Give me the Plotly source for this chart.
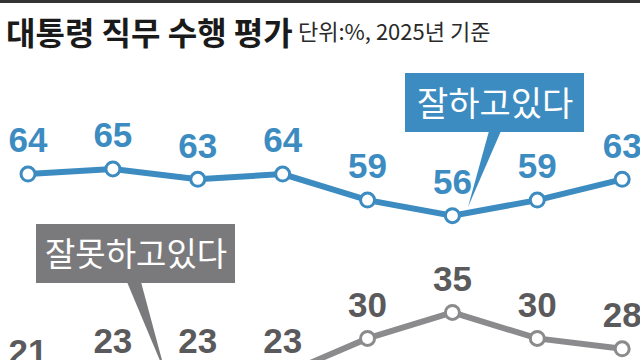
import plotly.graph_objects as go

# ---- data ----
periods = list(range(8))          # survey points (x labels not visible in the crop)
approve = [64, 65, 63, 64, 59, 56, 59, 63]      # 잘하고 있다
disapprove = [21, 23, 23, 23, 30, 35, 30, 28]   # 잘못하고 있다

title_text = "대통령 직무 수행 평가"
unit_text = "단위:%, 2025년 기준"
approve_name = "잘하고있다"
disapprove_name = "잘못하고있다"

BLUE = "#3d8cc1"
GRAY_LINE = "#8b8b8d"
GRAY_BOX = "#7a7a7c"
GRAY_TEXT = "#5a5a5c"
NUM_FONT = "Liberation Sans, Arial, sans-serif"
KR_FONT = "Noto Sans CJK KR, sans-serif"

W, H = 640, 360


def px(x):
    return x / W


def py(y):
    return 1 - y / H


fig = go.Figure()

series = [
    (approve, "y", BLUE, BLUE, approve_name),
    (disapprove, "y2", GRAY_LINE, GRAY_TEXT, disapprove_name),
]
for vals, yax, lc, tc, name in series:
    fig.add_trace(go.Scatter(
        x=periods, y=vals, name=name, yaxis=yax,
        mode="lines+markers",
        line=dict(color=lc, width=6),
        marker=dict(size=14, color="white", line=dict(color=lc, width=3)),
        cliponaxis=True, hoverinfo="skip",
    ))
    # value labels (transparent markers only set the text offset)
    fig.add_trace(go.Scatter(
        x=periods, y=vals, yaxis=yax, mode="markers+text",
        marker=dict(size=19, color="rgba(0,0,0,0)"),
        text=[str(v) for v in vals], textposition="top center",
        textfont=dict(family=NUM_FONT, size=35, color=tc, weight="bold"),
        cliponaxis=True, hoverinfo="skip", showlegend=False,
    ))

shapes = [
    # top rule
    dict(type="rect", xref="paper", yref="paper", x0=0, x1=1, y0=py(3), y1=1,
         fillcolor="#333333", line=dict(width=0)),
    # blue callout
    dict(type="rect", xref="paper", yref="paper", x0=px(405), x1=px(584), y0=py(132), y1=py(73),
         fillcolor=BLUE, line=dict(width=0)),
    dict(type="path", xref="paper", yref="paper",
         path=f"M {px(489)} {py(131)} L {px(501)} {py(131)} L {px(468)} {py(207)} Z",
         fillcolor=BLUE, line=dict(width=0)),
    # gray callout
    dict(type="rect", xref="paper", yref="paper", x0=px(36), x1=px(235), y0=py(283), y1=py(224),
         fillcolor=GRAY_BOX, line=dict(width=0)),
    dict(type="path", xref="paper", yref="paper",
         path=f"M {px(127)} {py(282)} L {px(141)} {py(282)} L {px(166)} {py(375)} Z",
         fillcolor=GRAY_BOX, line=dict(width=0)),
]

annotations = [
    dict(text=f"<b>{title_text}</b>", xref="paper", yref="paper", x=px(4), y=py(31),
         xanchor="left", yanchor="middle", showarrow=False,
         font=dict(family=KR_FONT, size=32, color="#1a1a1a")),
    dict(text=unit_text, xref="paper", yref="paper", x=px(296), y=py(30),
         xanchor="left", yanchor="middle", showarrow=False,
         font=dict(family=KR_FONT, size=22, color="#2a2a2a")),
    dict(text=approve_name, xref="paper", yref="paper", x=px(494.5), y=py(101),
         xanchor="center", yanchor="middle", showarrow=False,
         font=dict(family=KR_FONT, size=34, color="white")),
    dict(text=disapprove_name, xref="paper", yref="paper", x=px(135.5), y=py(252),
         xanchor="center", yanchor="middle", showarrow=False,
         font=dict(family=KR_FONT, size=33, color="white")),
]

fig.update_layout(
    width=W, height=H,
    margin=dict(l=0, r=0, t=0, b=0),
    paper_bgcolor="white", plot_bgcolor="white",
    showlegend=False,
    xaxis=dict(range=[-0.33, 7.21], visible=False, fixedrange=True),
    yaxis=dict(range=[28.25, 97.48], visible=False, fixedrange=True),
    yaxis2=dict(range=[25.85, 95.08], visible=False, overlaying="y", fixedrange=True),
    shapes=shapes,
    annotations=annotations,
)

fig.write_html(
    "out.html",
    config={"displayModeBar": False},
    post_script="document.body.style.margin='0';document.body.style.overflow='hidden';",
)
